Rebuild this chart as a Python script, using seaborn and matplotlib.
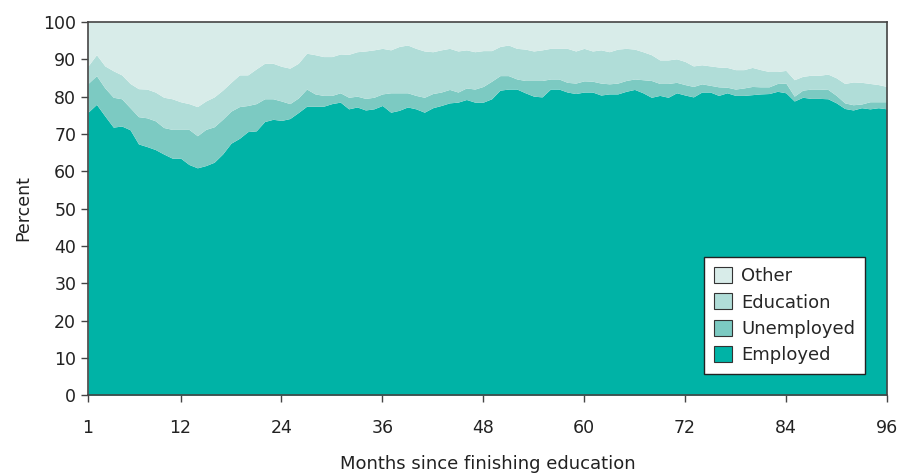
import numpy as np
import pandas as pd
import matplotlib
matplotlib.use("Agg")
import matplotlib.pyplot as plt
from matplotlib.patches import Patch
import seaborn as sns

# shares (percent) per month since finishing education
months = list(range(1, 97))

employed = [
    75.8, 77.9, 74.8, 71.8, 72.1, 71.1, 67.3, 66.6, 65.8, 64.6, 63.5, 63.5,
    61.8, 60.9, 61.5, 62.4, 64.6, 67.5, 68.8, 70.6, 70.8, 73.3, 73.9, 73.6,
    74.1, 75.7, 77.4, 77.4, 77.4, 78.1, 78.5, 76.7, 77.2, 76.4, 76.7, 77.6,
    75.8, 76.3, 77.2, 76.7, 75.8, 77.0, 77.6, 78.3, 78.5, 79.2, 78.5, 78.5,
    79.4, 81.7, 82.0, 82.0, 81.0, 80.1, 79.9, 82.0, 82.0, 81.2, 80.8, 81.2,
    81.2, 80.4, 80.7, 80.7, 81.4, 81.9, 81.0, 79.8, 80.3, 79.8, 81.0, 80.4,
    79.9, 81.2, 81.2, 80.3, 81.0, 80.3, 80.3, 80.5, 80.7, 80.8, 81.4, 81.0,
    78.8, 79.8, 79.5, 79.5, 79.4, 78.3, 76.8, 76.4, 77.0, 76.7, 77.0, 76.7,
]

unemployed = [
    7.7, 7.7, 7.5, 8.0, 7.3, 5.9, 7.3, 7.7, 7.7, 7.1, 7.7, 7.7,
    9.4, 8.6, 9.7, 9.5, 9.3, 8.6, 8.5, 7.0, 7.3, 6.1, 5.5, 5.2,
    4.0, 3.9, 4.6, 3.3, 2.9, 2.2, 2.5, 3.1, 2.9, 3.1, 3.1, 3.1,
    5.2, 4.7, 3.8, 3.6, 4.0, 3.8, 3.6, 3.6, 2.7, 3.1, 3.5, 4.2,
    4.7, 3.9, 3.6, 2.7, 3.3, 4.2, 4.4, 2.7, 2.7, 2.6, 2.8, 3.0,
    2.9, 3.2, 2.7, 2.9, 2.9, 2.8, 3.5, 4.5, 3.2, 3.7, 2.8, 2.8,
    2.8, 2.2, 1.8, 2.3, 1.5, 1.7, 2.0, 2.2, 1.9, 1.8, 2.1, 2.6,
    1.3, 1.9, 2.5, 2.5, 2.5, 2.0, 1.5, 1.4, 1.0, 1.9, 1.6, 1.9,
]

education = [
    4.7, 5.6, 5.9, 7.1, 6.4, 6.5, 7.5, 7.7, 7.7, 8.1, 8.2, 7.4,
    6.9, 7.8, 7.6, 8.0, 7.8, 7.7, 8.5, 8.2, 9.3, 9.5, 9.5, 9.3,
    9.5, 9.3, 9.6, 10.5, 10.4, 10.4, 10.4, 11.5, 11.9, 12.7, 12.7, 12.2,
    11.5, 12.4, 12.8, 12.6, 12.4, 11.2, 11.3, 11.0, 11.0, 10.2, 10.0, 9.6,
    8.2, 7.8, 8.2, 8.2, 8.4, 7.9, 8.2, 8.2, 8.2, 9.1, 8.6, 8.7,
    8.1, 8.9, 8.6, 9.1, 8.6, 8.0, 7.5, 6.9, 6.3, 6.3, 6.3, 6.2,
    5.5, 5.1, 5.2, 5.3, 5.3, 5.2, 4.9, 5.1, 4.6, 4.1, 3.2, 3.4,
    4.4, 3.7, 3.7, 3.7, 4.1, 4.7, 5.2, 6.1, 5.8, 4.9, 4.6, 4.1,
]

other = [
    11.8, 8.8, 11.8, 13.1, 14.2, 16.5, 17.9, 18.0, 18.8, 20.2, 20.6, 21.4,
    21.9, 22.7, 21.2, 20.1, 18.3, 16.2, 14.2, 14.2, 12.6, 11.1, 11.1, 11.9,
    12.4, 11.1, 8.4, 8.8, 9.3, 9.3, 8.6, 8.7, 8.0, 7.8, 7.5, 7.1,
    7.5, 6.6, 6.2, 7.1, 7.8, 8.0, 7.5, 7.1, 7.8, 7.5, 8.0, 7.7,
    7.7, 6.6, 6.2, 7.1, 7.3, 7.8, 7.5, 7.1, 7.1, 7.1, 7.8, 7.1,
    7.8, 7.5, 8.0, 7.3, 7.1, 7.3, 8.0, 8.8, 10.2, 10.2, 9.9, 10.6,
    11.8, 11.5, 11.8, 12.1, 12.2, 12.8, 12.8, 12.2, 12.8, 13.3, 13.3, 13.0,
    15.5, 14.6, 14.3, 14.3, 14.0, 15.0, 16.5, 16.1, 16.2, 16.5, 16.8, 17.3,
]

statuses = ["Other", "Education", "Unemployed", "Employed"]
colors = ["#d8ece9", "#b0ddd8", "#7ccac2", "#00b3a6"]
x_ticks = [1, 12, 24, 36, 48, 60, 72, 84, 96]

# long format for seaborn
df = pd.concat([
    pd.DataFrame({"month": months, "status": name, "pct": vals})
    for name, vals in zip(statuses, [other, education, unemployed, employed])
], ignore_index=True)

sns.set_style("ticks")
plt.rcParams["font.family"] = ["DejaVu Sans"]

fig = plt.figure(figsize=(9.03, 4.75), dpi=100)
ax = fig.add_axes([0.0975, 0.168, 0.8845, 0.786])

# stacked area: seaborn stacks the last hue level at the bottom
sns.histplot(data=df, x="month", weights="pct", hue="status",
             hue_order=statuses, palette=colors, discrete=True,
             multiple="stack", element="poly", alpha=1, linewidth=0,
             legend=False, ax=ax)

ax.set_xlim(1, 96)
ax.set_ylim(0, 100)
ax.set_xticks(x_ticks)
ax.set_yticks(range(0, 101, 10))
ax.set_xlabel("Months since finishing education", fontsize=13, color="#222222", labelpad=13)
ax.set_ylabel("Percent", fontsize=12.5, color="#222222", labelpad=8)
ax.tick_params(axis="both", direction="out", length=5, width=1, color="#444444",
               labelsize=12.5, labelcolor="#222222")
ax.tick_params(axis="x", pad=12)
for side in ["left", "bottom", "top", "right"]:
    ax.spines[side].set_visible(True)
    ax.spines[side].set_color("#444444")
    ax.spines[side].set_linewidth(1.2)

handles = [Patch(facecolor=c, edgecolor="#333333", linewidth=0.8) for c in colors]
leg = ax.legend(handles, statuses, loc="lower right", bbox_to_anchor=(0.984, 0.032),
                frameon=True, fancybox=False, framealpha=1, edgecolor="#222222",
                fontsize=13, handlelength=1.0, handleheight=1.0, handletextpad=0.5,
                labelspacing=0.45, borderpad=0.55)
leg.get_frame().set_linewidth(1.0)

fig.savefig("out.png", dpi=100)
